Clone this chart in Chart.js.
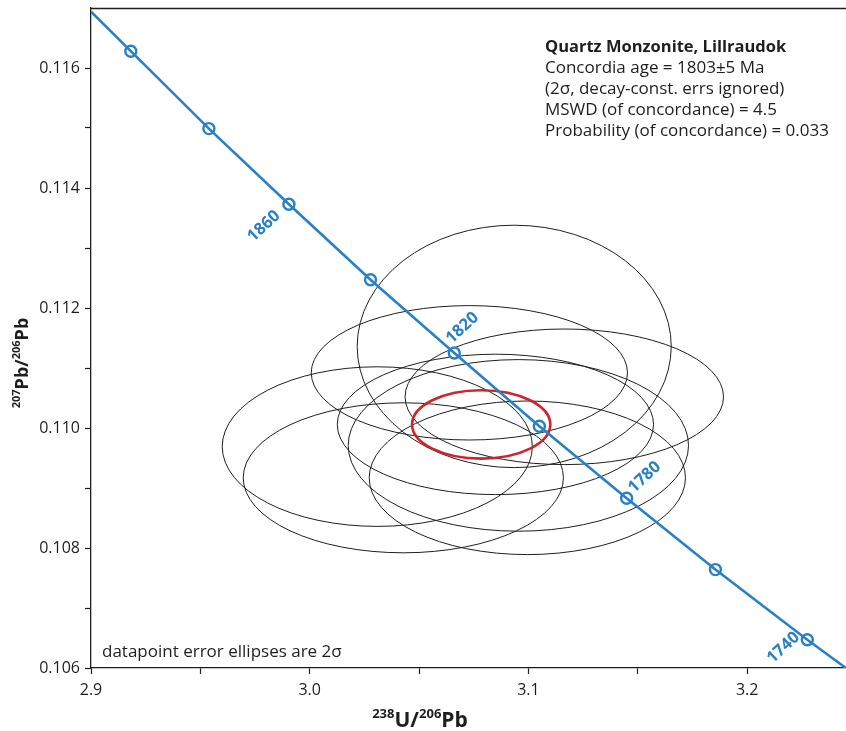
<!DOCTYPE html>
<html>
<head>
<meta charset="utf-8">
<script src="https://cdn.jsdelivr.net/npm/chart.js@4.4.1/dist/chart.umd.min.js"></script>
<style>
  html, body { margin: 0; padding: 0; background: #fff; }
  #wrap { width: 846px; height: 731px; }
</style>
</head>
<body>
<div id="wrap"><canvas id="chart"></canvas></div>
<script>
// concordia markers (Ma)
const concAges = [1900, 1880, 1860, 1840, 1820, 1800, 1780, 1760, 1740];
const concX = [2.9182, 2.9539, 2.9905, 3.0278, 3.0661, 3.1050, 3.1449, 3.1855, 3.2275];
const concY = [0.11628, 0.11499, 0.11373, 0.11247, 0.11125, 0.11003, 0.10883, 0.10764, 0.10647];
const labelledAges = [1860, 1820, 1780, 1740];

// where the curve enters / leaves the frame
const lineX = [2.9, ...concX, 3.2452];
const lineY = [0.11694, ...concY, 0.10600];

// datapoint error ellipses (2 sigma): centre and half widths
const ellX  = [3.0935, 3.0730, 3.1164, 3.0309, 3.0428, 3.0849, 3.0954, 3.0995];
const ellY  = [0.11136, 0.11092, 0.11052, 0.10969, 0.10917, 0.11006, 0.10971, 0.10917];
const ellSx = [0.0718, 0.0723, 0.0728, 0.0709, 0.0732, 0.0723, 0.0778, 0.0723];
const ellSy = [0.00202, 0.00112, 0.00113, 0.00133, 0.00125, 0.00117, 0.00143, 0.00128];

// concordia age ellipse: x, y, sx, sy
const ageEllipse = [3.0784, 0.11006, 0.0316, 0.00057];

const xTickValues = [2.9, 2.95, 3.0, 3.05, 3.1, 3.15, 3.2];
const xTickLabels = ['2.9', '', '3.0', '', '3.1', '', '3.2'];
const yTickValues = [0.106, 0.107, 0.108, 0.109, 0.110, 0.111, 0.112, 0.113, 0.114, 0.115, 0.116];
const yTickLabels = ['0.106', '', '0.108', '', '0.110', '', '0.112', '', '0.114', '', '0.116'];

const infoLines = [
  'Quartz Monzonite, Lillraudok',
  'Concordia age = 1803\u00b15 Ma',
  '(2\u03c3, decay-const. errs ignored)',
  'MSWD (of concordance) = 4.5',
  'Probability (of concordance) = 0.033'
];

const BLUE = '#2a80c6';
const RED = '#d0232b';
const INK = '#1e1e1e';
const FONT = '"Open Sans", "Noto Sans", sans-serif';

const pts = (xs, ys) => xs.map((v, i) => ({ x: v, y: ys[i] }));

const ellipsePlugin = {
  id: 'ellipses',
  beforeDatasetsDraw(chart) {
    const { ctx, scales: { x, y } } = chart;
    const draw = (cxv, cyv, sx, sy) => {
      const cx = x.getPixelForValue(cxv);
      const cy = y.getPixelForValue(cyv);
      const rx = x.getPixelForValue(cxv + sx) - cx;
      const ry = cy - y.getPixelForValue(cyv + sy);
      ctx.beginPath();
      ctx.ellipse(cx, cy, rx, ry, 0, 0, Math.PI * 2);
      ctx.stroke();
    };
    ctx.save();
    ctx.strokeStyle = INK;
    ctx.lineWidth = 1;
    ellX.forEach((v, i) => draw(v, ellY[i], ellSx[i], ellSy[i]));
    ctx.strokeStyle = RED;
    ctx.lineWidth = 2.6;
    draw(...ageEllipse);
    ctx.restore();
  }
};

// pixel offsets of the age labels from their markers
const labelOffsets = { 1860: [-25, 22], 1820: [8, -25], 1780: [18, -21], 1740: [-24, 8] };

const ageLabelPlugin = {
  id: 'ageLabels',
  afterDatasetsDraw(chart) {
    const { ctx, scales: { x, y } } = chart;
    ctx.save();
    ctx.fillStyle = BLUE;
    ctx.font = 'bold 16.5px ' + FONT;
    ctx.textAlign = 'center';
    ctx.textBaseline = 'middle';
    labelledAges.forEach(age => {
      const i = concAges.indexOf(age);
      const off = labelOffsets[age];
      ctx.save();
      ctx.translate(x.getPixelForValue(concX[i]) + off[0], y.getPixelForValue(concY[i]) + off[1]);
      ctx.rotate(-43 * Math.PI / 180);
      ctx.fillText(String(age), 0, 0);
      ctx.restore();
    });
    ctx.restore();
  }
};

// text with superscript parts, centred on (0,0) baseline
function drawSupText(ctx, parts, size) {
  const big = 'bold ' + size + 'px ' + FONT;
  const small = 'bold ' + Math.round(size * 0.62) + 'px ' + FONT;
  let w = 0;
  parts.forEach(p => { ctx.font = p[1] ? small : big; w += ctx.measureText(p[0]).width; });
  let cx = -w / 2;
  ctx.textAlign = 'left';
  ctx.textBaseline = 'alphabetic';
  parts.forEach(p => {
    ctx.font = p[1] ? small : big;
    ctx.fillText(p[0], cx, p[1] ? -size * 0.42 : 0);
    cx += ctx.measureText(p[0]).width;
  });
}

const textPlugin = {
  id: 'texts',
  afterDraw(chart) {
    const { ctx, chartArea: a } = chart;
    ctx.save();
    // top frame line
    ctx.strokeStyle = INK;
    ctx.lineWidth = 1.3;
    ctx.beginPath();
    ctx.moveTo(a.left, a.top + 0.5);
    ctx.lineTo(a.right, a.top + 0.5);
    ctx.stroke();

    ctx.fillStyle = INK;
    ctx.textAlign = 'left';
    ctx.textBaseline = 'alphabetic';
    infoLines.forEach((t, i) => {
      ctx.font = (i === 0 ? 'bold 16.5px ' : '17px ') + FONT;
      ctx.fillText(t, 545, 52 + i * 21);
    });
    ctx.font = '17px ' + FONT;
    ctx.fillText('datapoint error ellipses are 2\u03c3', 102, 657);

    ctx.save();
    ctx.translate(420, 727);
    drawSupText(ctx, [['238', true], ['U/', false], ['206', true], ['Pb', false]], 21);
    ctx.restore();

    ctx.save();
    ctx.translate(28, 363);
    ctx.rotate(-Math.PI / 2);
    drawSupText(ctx, [['207', true], ['Pb/', false], ['206', true], ['Pb', false]], 18);
    ctx.restore();
    ctx.restore();
  }
};

new Chart(document.getElementById('chart'), {
  type: 'scatter',
  data: {
    datasets: [
      {
        label: 'Concordia',
        data: pts(lineX, lineY),
        showLine: true,
        borderColor: BLUE,
        borderWidth: 2.6,
        pointRadius: 0,
        tension: 0
      },
      {
        label: 'Ages',
        data: pts(concX, concY),
        showLine: false,
        pointRadius: 5.5,
        pointBorderWidth: 2.4,
        pointBackgroundColor: '#fff',
        pointBorderColor: BLUE
      }
    ]
  },
  options: {
    responsive: true,
    maintainAspectRatio: false,
    animation: false,
    layout: { autoPadding: false, padding: { top: 8, right: 0, left: 0, bottom: 0 } },
    plugins: { legend: { display: false }, tooltip: { enabled: false } },
    scales: {
      x: {
        type: 'linear',
        min: 2.9,
        max: 3.2452,
        afterBuildTicks: s => { s.ticks = xTickValues.map(v => ({ value: v })); },
        afterFit: s => { s.height = 63; s.paddingLeft = 0; s.paddingRight = 0; },
        ticks: {
          autoSkip: false,
          maxRotation: 0,
          padding: 7,
          color: INK,
          font: { family: FONT, size: 16 },
          callback: (v, i) => xTickLabels[i]
        },
        grid: { drawOnChartArea: false, drawTicks: true, tickLength: 6, tickColor: INK, tickWidth: 1.2 },
        border: { display: true, color: INK, width: 1.3 }
      },
      y: {
        type: 'linear',
        min: 0.106,
        max: 0.117,
        afterBuildTicks: s => { s.ticks = yTickValues.map(v => ({ value: v })); },
        afterFit: s => { s.width = 91; s.paddingTop = 0; s.paddingBottom = 0; },
        ticks: {
          autoSkip: false,
          padding: 5,
          color: INK,
          font: { family: FONT, size: 16 },
          callback: (v, i) => yTickLabels[i]
        },
        grid: { drawOnChartArea: false, drawTicks: true, tickLength: 6, tickColor: INK, tickWidth: 1.2 },
        border: { display: true, color: INK, width: 1.3 }
      }
    }
  },
  plugins: [ellipsePlugin, ageLabelPlugin, textPlugin]
});
</script>
</body>
</html>
